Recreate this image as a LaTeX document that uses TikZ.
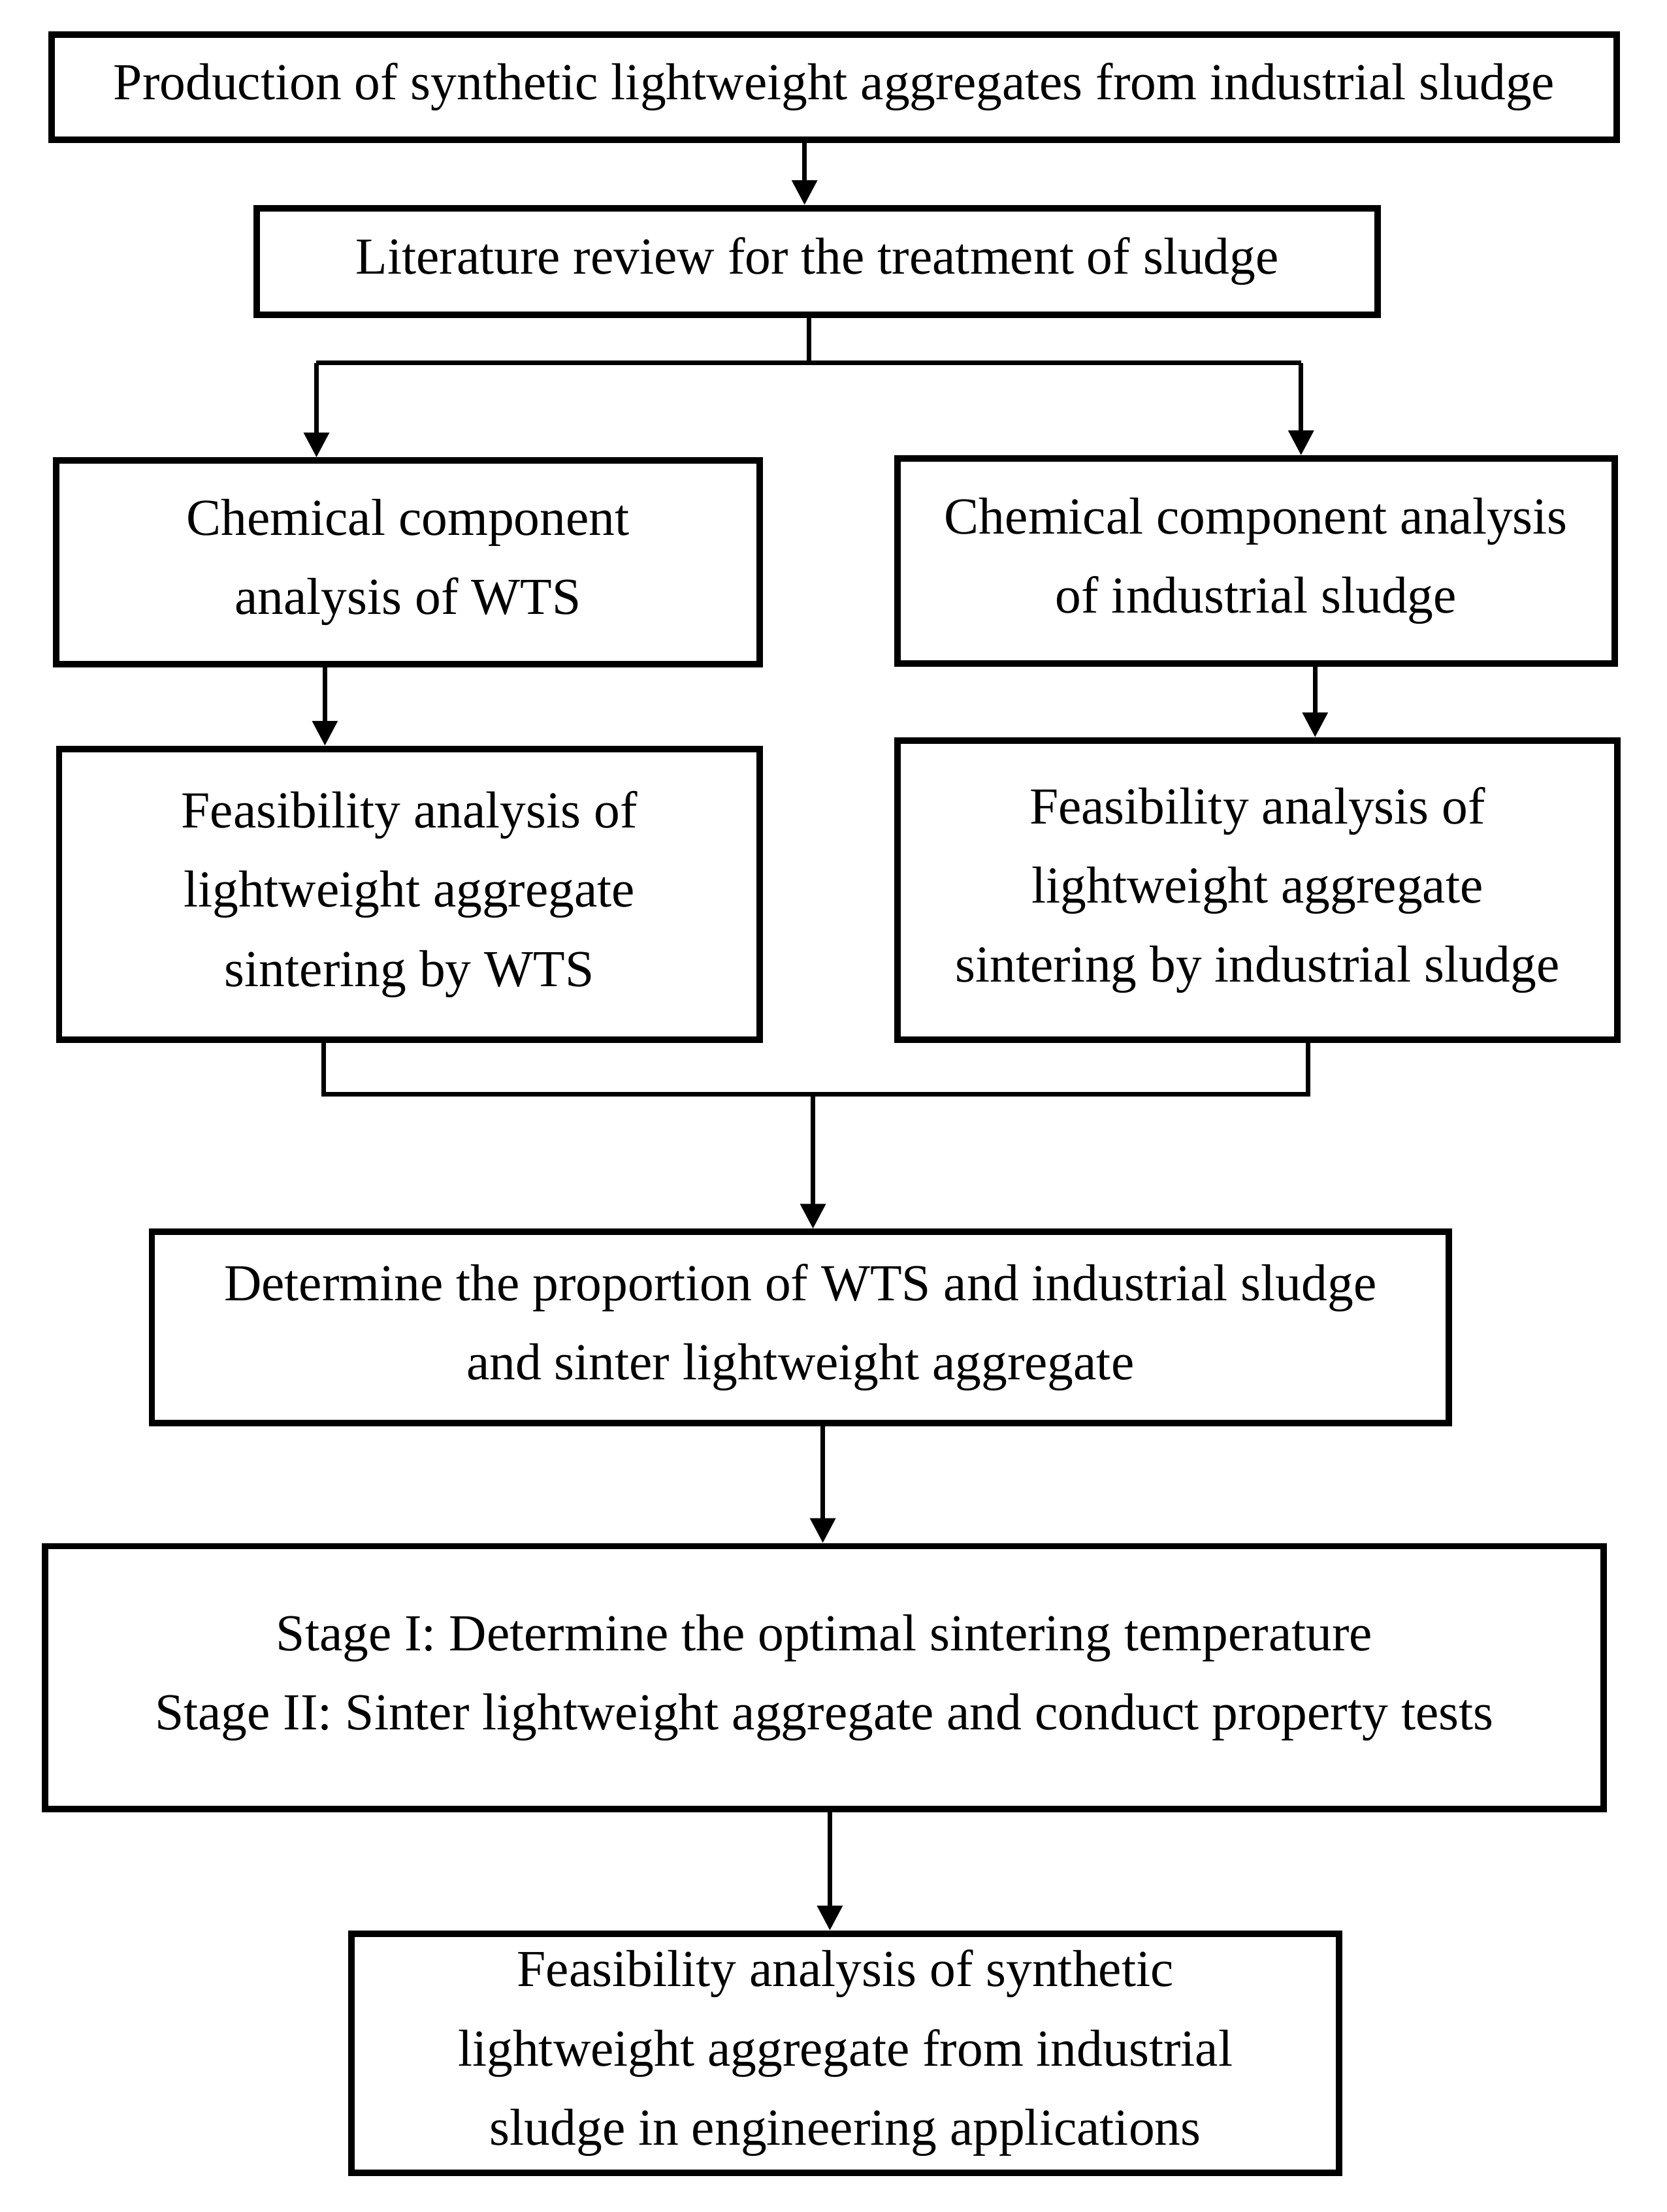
\documentclass[tikz,border=0pt]{standalone}
\usepackage{fontspec}
\setmainfont{Liberation Serif}
\usetikzlibrary{arrows.meta}
\begin{document}
\begin{tikzpicture}[x=0.01cm,y=-0.01cm,
  box/.style={draw,line width=1.3pt,align=center,inner sep=0pt,font=\fontsize{10.5}{16}\selectfont},
  sz/.style 2 args={minimum width=#1*0.01cm,minimum height=#2*0.01cm},
  arr/.style={line width=0.9pt,-{Triangle[length=5pt,width=5pt]}},
  ln/.style={line width=0.9pt}]
\useasboundingbox (0,0) rectangle (1185,1573);
\node[box,sz={1113}{75}] (b1) at (593,62) {Production of synthetic lightweight aggregates from industrial sludge};
\node[box,sz={797}{76}] (b2) at (581,186) {Literature review for the treatment of sludge};
\node[box,sz={500}{145}] (l1) at (290,400) {Chemical component\\analysis of WTS};
\node[box,sz={510}{146}] (r1) at (893,399) {Chemical component analysis\\of industrial sludge};
\node[box,sz={498}{207}] (l2) at (291,636) {Feasibility analysis of\\lightweight aggregate\\sintering by WTS};
\node[box,sz={512}{213}] (r2) at (894,633) {Feasibility analysis of\\lightweight aggregate\\sintering by industrial sludge};
\node[box,sz={922}{136}] (b5) at (569,944) {Determine the proportion of WTS and industrial sludge\\and sinter lightweight aggregate};
\node[box,sz={1108}{187}] (b6) at (586,1193) {Stage I: Determine the optimal sintering temperature\\Stage II: Sinter lightweight aggregate and conduct property tests};
\node[box,sz={702}{170}] (b7) at (601,1460) {Feasibility analysis of synthetic\\lightweight aggregate from industrial\\sludge in engineering applications};
\coordinate (s1) at (575,258);
\coordinate (sL) at (225,258);
\coordinate (sR) at (925,258);
\coordinate (mL) at (230,778);
\coordinate (mR) at (930,778);
\coordinate (mC) at (578,778);
\draw[arr] (b1.south -| 572,0) -- (b2.north -| 572,0);
\draw[ln] (b2.south -| s1) -- (s1);
\draw[ln] (sL) -- (sR);
\draw[arr] (sL) -- (l1.north -| sL);
\draw[arr] (sR) -- (r1.north -| sR);
\draw[arr] (l1.south -| 231,0) -- (l2.north -| 231,0);
\draw[arr] (r1.south -| 935,0) -- (r2.north -| 935,0);
\draw[ln] (l2.south -| mL) -- (mL) -- (mR) -- (r2.south -| mR);
\draw[arr] (mC) -- (b5.north -| mC);
\draw[arr] (b5.south -| 585,0) -- (b6.north -| 585,0);
\draw[arr] (b6.south -| 590,0) -- (b7.north -| 590,0);
\end{tikzpicture}
\end{document}
